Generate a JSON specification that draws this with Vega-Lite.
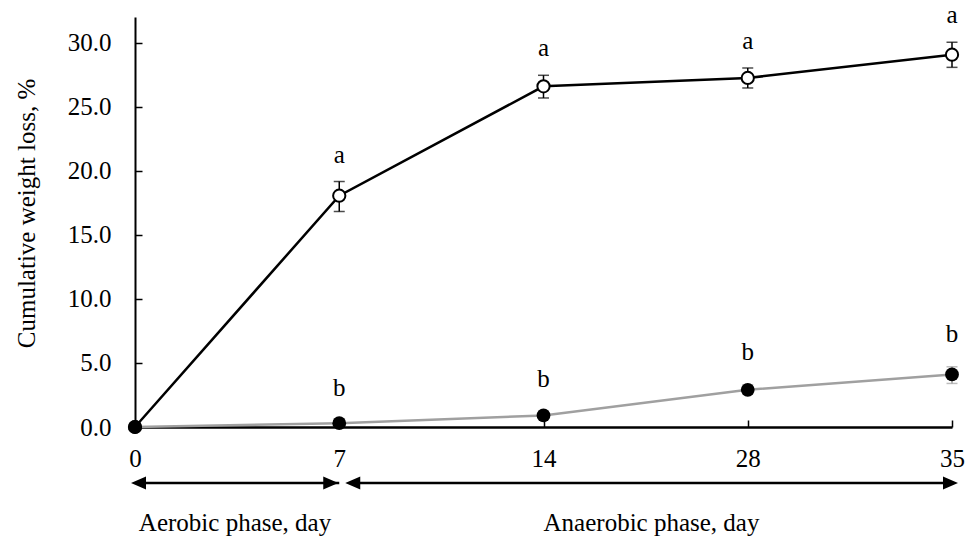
{
  "$schema": "https://vega.github.io/schema/vega-lite/v6.json",
  "width": 817,
  "height": 410,
  "autosize": "none",
  "padding": {"left": 135, "top": 17, "right": 22, "bottom": 110},
  "config": {
    "font": "Liberation Serif",
    "view": {"stroke": null},
    "style": {"guide-title": {"font": "Liberation Serif", "fontSize": 25, "fontWeight": "normal", "fill": "black"}},
    "axis": {
      "domainColor": "black",
      "domainWidth": 2,
      "tickColor": "black",
      "tickWidth": 1.5,
      "tickSize": -7,
      "labelFont": "Liberation Serif",
      "labelFontSize": 25,
      "labelColor": "black",
      "grid": false,
      "titleFont": "Liberation Serif",
      "titleFontSize": 25,
      "titleFontWeight": "normal",
      "titleColor": "black"
    }
  },
  "datasets": {
    "loss": [
      {"day": "0", "series": "open", "mean": 0, "lo": null, "hi": null, "letter": ""},
      {"day": "7", "series": "open", "mean": 18.05, "lo": 16.82, "hi": 19.16, "letter": "a"},
      {"day": "14", "series": "open", "mean": 26.59, "lo": 25.68, "hi": 27.45, "letter": "a"},
      {"day": "28", "series": "open", "mean": 27.24, "lo": 26.46, "hi": 28.02, "letter": "a"},
      {"day": "35", "series": "open", "mean": 29.06, "lo": 28.07, "hi": 30.03, "letter": "a"},
      {"day": "0", "series": "filled", "mean": 0, "lo": null, "hi": null, "letter": ""},
      {"day": "7", "series": "filled", "mean": 0.3, "lo": 0.1, "hi": 0.5, "letter": "b"},
      {"day": "14", "series": "filled", "mean": 0.9, "lo": 0.7, "hi": 1.2, "letter": "b"},
      {"day": "28", "series": "filled", "mean": 2.9, "lo": 2.6, "hi": 3.3, "letter": "b"},
      {"day": "35", "series": "filled", "mean": 4.1, "lo": 3.4, "hi": 4.7, "letter": "b"}
    ],
    "phases": [
      {"phase": "Aerobic phase, day", "start": "0", "end": "7"},
      {"phase": "Anaerobic phase, day", "start": "7", "end": "35"}
    ]
  },
  "layer": [
    {
      "data": {"name": "loss"},
      "mark": {"type": "line", "strokeWidth": 2.5},
      "encoding": {
        "x": {
          "field": "day", "type": "ordinal",
          "scale": {"type": "point", "padding": 0, "domain": ["0", "7", "14", "28", "35"]},
          "axis": {"title": null, "labelAngle": 0, "labelPadding": 26, "domainWidth": 2.5}
        },
        "y": {
          "field": "mean", "type": "quantitative",
          "scale": {"domain": [0, 32], "nice": false, "zero": true},
          "axis": {"title": "Cumulative weight loss, %", "titleFont": "Liberation Serif", "titleFontSize": 25, "titleFontWeight": "normal", "values": [0, 5, 10, 15, 20, 25, 30], "format": ".1f", "labelPadding": 31, "titlePadding": 28, "titleY": 196}
        },
        "color": {"field": "series", "type": "nominal", "scale": {"domain": ["open", "filled"], "range": ["#000000", "#a0a0a0"]}, "legend": null},
        "detail": {"field": "series"}
      }
    },
    {
      "data": {"name": "loss"},
      "mark": {"type": "rule", "strokeWidth": 1.5},
      "encoding": {
        "x": {"field": "day", "type": "ordinal"},
        "y": {"field": "lo", "type": "quantitative"},
        "y2": {"field": "hi"},
        "color": {"field": "series", "type": "nominal"}
      }
    },
    {
      "data": {"name": "loss"},
      "mark": {"type": "tick", "thickness": 1.5, "size": 11},
      "encoding": {
        "x": {"field": "day", "type": "ordinal"},
        "y": {"field": "lo", "type": "quantitative"},
        "color": {"field": "series", "type": "nominal"}
      }
    },
    {
      "data": {"name": "loss"},
      "mark": {"type": "tick", "thickness": 1.5, "size": 11},
      "encoding": {
        "x": {"field": "day", "type": "ordinal"},
        "y": {"field": "hi", "type": "quantitative"},
        "color": {"field": "series", "type": "nominal"}
      }
    },
    {
      "data": {"name": "loss"},
      "transform": [{"filter": "datum.series === 'open'"}],
      "mark": {"type": "point", "shape": "circle", "filled": true, "fill": "white", "stroke": "black", "strokeWidth": 2, "size": 150, "opacity": 1},
      "encoding": {
        "x": {"field": "day", "type": "ordinal"},
        "y": {"field": "mean", "type": "quantitative"}
      }
    },
    {
      "data": {"name": "loss"},
      "transform": [{"filter": "datum.series === 'filled'"}],
      "mark": {"type": "point", "shape": "circle", "filled": true, "fill": "black", "strokeWidth": 0, "size": 190, "opacity": 1},
      "encoding": {
        "x": {"field": "day", "type": "ordinal"},
        "y": {"field": "mean", "type": "quantitative"}
      }
    },
    {
      "data": {"name": "loss"},
      "transform": [{"filter": "datum.series === 'open' && datum.letter !== ''"}],
      "mark": {"type": "text", "fontSize": 25, "color": "black", "baseline": "alphabetic", "dy": -19},
      "encoding": {
        "x": {"field": "day", "type": "ordinal"},
        "y": {"field": "hi", "type": "quantitative"},
        "text": {"field": "letter"}
      }
    },
    {
      "data": {"name": "loss"},
      "transform": [{"filter": "datum.series === 'filled' && datum.letter !== ''"}],
      "mark": {"type": "text", "fontSize": 25, "color": "black", "baseline": "alphabetic", "dy": -25},
      "encoding": {
        "x": {"field": "day", "type": "ordinal"},
        "y": {"field": "hi", "type": "quantitative"},
        "text": {"field": "letter"}
      }
    },
    {
      "data": {"name": "phases"},
      "transform": [{"filter": "datum.start === '0'"}],
      "layer": [
        {
          "mark": {"type": "rule", "strokeWidth": 2.5, "color": "black"},
          "encoding": {
            "x": {"field": "start", "type": "ordinal"},
            "x2": {"field": "end"},
            "xOffset": {"value": 4},
            "x2Offset": {"value": -8},
            "y": {"datum": -4.375, "type": "quantitative"}
          }
        },
        {
          "mark": {"type": "point", "shape": "M0,0L1,-0.43L1,0.43Z", "filled": true, "fill": "black", "strokeWidth": 0, "size": 900, "opacity": 1, "xOffset": -4},
          "encoding": {
            "x": {"field": "start", "type": "ordinal"},
            "y": {"datum": -4.375, "type": "quantitative"}
          }
        },
        {
          "mark": {"type": "point", "shape": "M0,0L-1,-0.43L-1,0.43Z", "filled": true, "fill": "black", "strokeWidth": 0, "size": 900, "opacity": 1, "xOffset": -1},
          "encoding": {
            "x": {"field": "end", "type": "ordinal"},
            "y": {"datum": -4.375, "type": "quantitative"}
          }
        },
        {
          "mark": {"type": "text", "fontSize": 25, "color": "black", "baseline": "alphabetic", "align": "center", "dx": 100},
          "encoding": {
            "x": {"field": "start", "type": "ordinal"},
            "y": {"datum": -8.09, "type": "quantitative"},
            "text": {"field": "phase"}
          }
        }
      ]
    },
    {
      "data": {"name": "phases"},
      "transform": [{"filter": "datum.start === '7'"}],
      "layer": [
        {
          "mark": {"type": "rule", "strokeWidth": 2.5, "color": "black"},
          "encoding": {
            "x": {"field": "start", "type": "ordinal"},
            "x2": {"field": "end"},
            "xOffset": {"value": 14},
            "x2Offset": {"value": 0},
            "y": {"datum": -4.375, "type": "quantitative"}
          }
        },
        {
          "mark": {"type": "point", "shape": "M0,0L1,-0.43L1,0.43Z", "filled": true, "fill": "black", "strokeWidth": 0, "size": 900, "opacity": 1, "xOffset": 6},
          "encoding": {
            "x": {"field": "start", "type": "ordinal"},
            "y": {"datum": -4.375, "type": "quantitative"}
          }
        },
        {
          "mark": {"type": "point", "shape": "M0,0L-1,-0.43L-1,0.43Z", "filled": true, "fill": "black", "strokeWidth": 0, "size": 900, "opacity": 1, "xOffset": 6},
          "encoding": {
            "x": {"field": "end", "type": "ordinal"},
            "y": {"datum": -4.375, "type": "quantitative"}
          }
        },
        {
          "mark": {"type": "text", "fontSize": 25, "color": "black", "baseline": "alphabetic", "align": "center", "dx": 108},
          "encoding": {
            "x": {"datum": "14", "type": "ordinal"},
            "y": {"datum": -8.09, "type": "quantitative"},
            "text": {"field": "phase"}
          }
        }
      ]
    }
  ]
}
